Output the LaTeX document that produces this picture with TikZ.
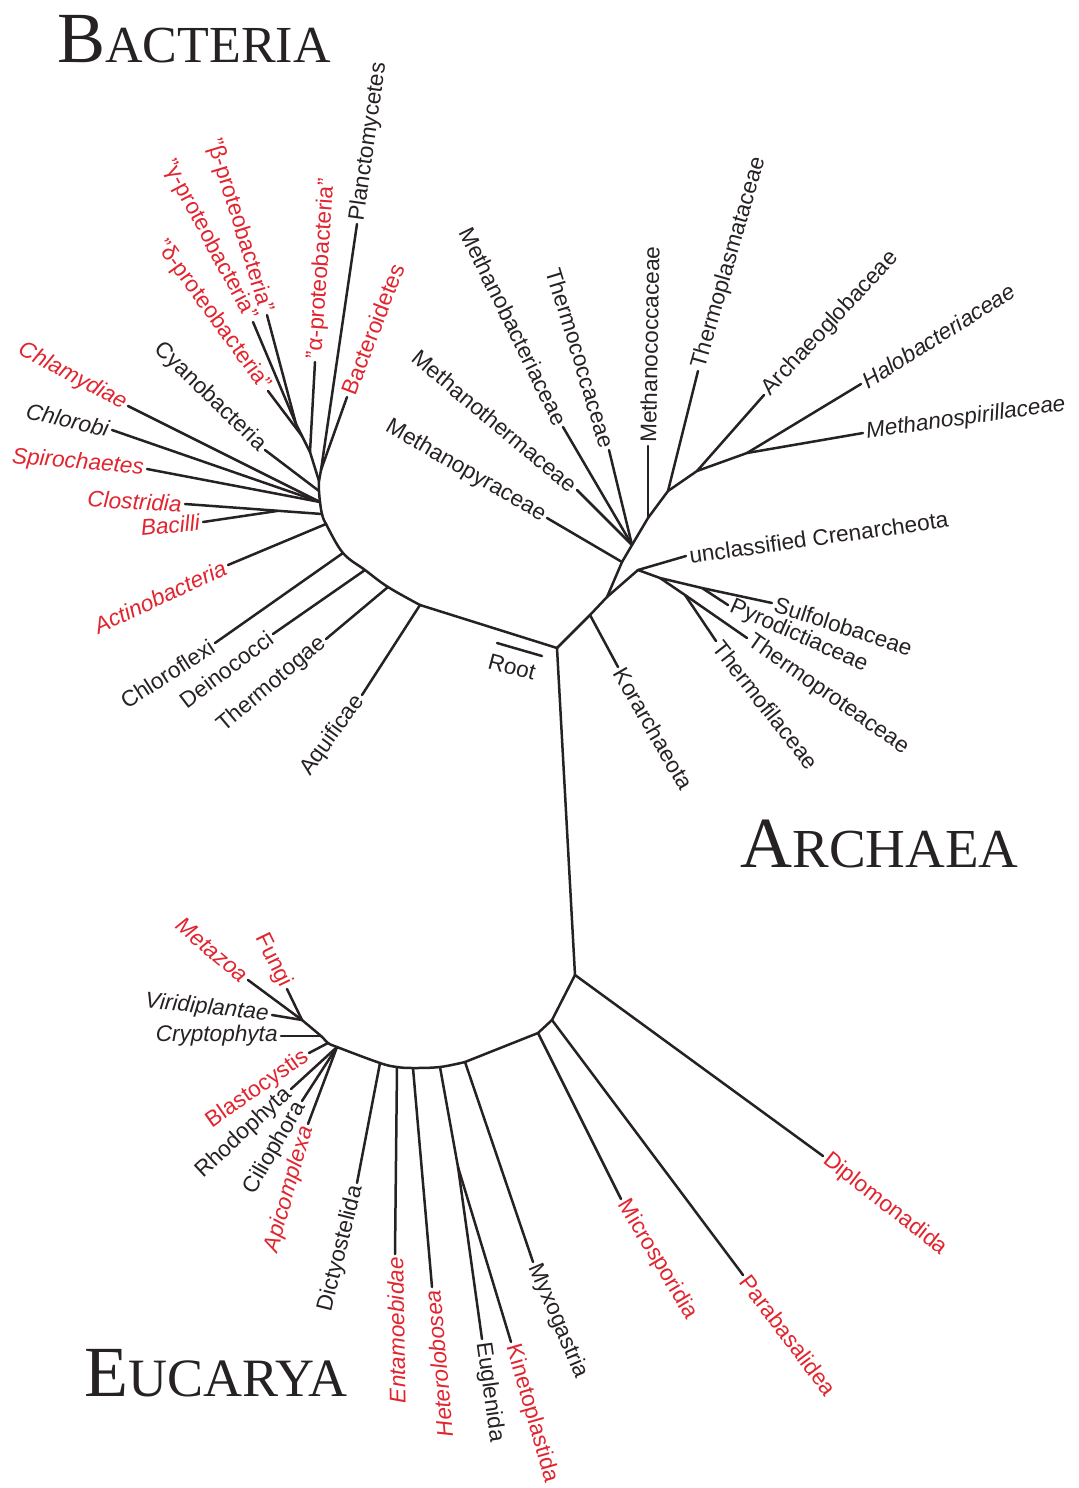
\documentclass[tikz,border=0pt]{standalone}
\usepackage{fontspec}
\setmainfont{Liberation Serif}
\setsansfont{Liberation Sans}
\definecolor{ink}{RGB}{38,33,34}
\definecolor{labred}{RGB}{225,36,46}

\begin{document}
\begin{tikzpicture}[x=0.5pt,y=-0.5pt]
\tikzset{ br/.style={draw=ink, line width=1.25pt, line cap=round, line join=round},
  lab/.style={font=\sffamily\fontsize{11.3}{13}\selectfont, text=ink, inner sep=1.5pt},
  ilab/.style={lab, font=\sffamily\itshape\fontsize{11.3}{13}\selectfont},
  rlab/.style={lab, text=labred},
  rilab/.style={ilab, text=labred},
  title/.style={font=\rmfamily, text=ink, anchor=base west, inner sep=0pt} }

\useasboundingbox (0,0) rectangle (1078,1488);

%\draw [lightgray, dashed] (0,0) grid[step=100] (1078,1488);

\node[title] (tB) at (57,62)   {{\fontsize{36}{36}\selectfont B}{\fontsize{26}{26}\selectfont ACTERIA}};
\node[title] (tA) at (740,867) {{\fontsize{36}{36}\selectfont A}{\fontsize{27.5}{27.5}\selectfont RCHAEA}};
\node[title] (tE) at (84,1396) {{\fontsize{36}{36}\selectfont E}{\fontsize{27}{27}\selectfont UCARYA}};

% root
\coordinate (R) at (557,648);
\coordinate (s1) at (497,643);
\coordinate (s2) at (542,656);
\draw [br] (s1) -- (s2);
\node [lab, rotate=-15] (Root) at (512,667) {Root};

% bacteria
\coordinate (bAq) at (420,605);
\coordinate (bTh) at (388,587);
\coordinate (bDe) at (365,570);
\coordinate (bCf) at (343,553);
\coordinate (bAc) at (326,524);
\coordinate (bCB) at (322,514);
\coordinate (bCS) at (320,502);
\coordinate (bCy) at (319,491);
\coordinate (bUp) at (319,481);
\coordinate (bBa) at (277,511);
\coordinate (PB) at (321,470);
\coordinate (P1) at (310,452);
\coordinate (P2) at (302,436);
\coordinate (P3) at (296,424);

\node [lab,  rotate=82,  anchor=west] (Pla) at (357,224) {Planctomycetes};
\node [rlab, rotate=86,  anchor=west] (Alp) at (315,362) {"α-proteobacteria"};
\node [rlab, rotate=69,  anchor=west] (Bac) at (347,397) {Bacteroidetes};
\node [rlab, rotate=-73, anchor=east] (Bet) at (267,315) {"β-proteobacteria"};
\node [rlab, rotate=-62, anchor=east] (Gam) at (253,322) {"γ-proteobacteria"};
\node [rlab, rotate=-54, anchor=east] (Del) at (268,391) {"δ-proteobacteria"};
\node [lab,  rotate=-44, anchor=east] (Cya) at (265,450) {Cyanobacteria};
\node [rilab, rotate=-28, anchor=east] (Chy) at (128,406) {Chlamydiae};
\node [ilab, rotate=-13, anchor=east] (Chb) at (112,430) {Chlorobi};
\node [rilab, rotate=-5,  anchor=east] (Spi) at (147,469) {Spirochaetes};
\node [rilab, rotate=-3,  anchor=east] (Clo) at (185,504) {Clostridia};
\node [rilab, rotate=5,   anchor=east] (Bcl) at (203,522) {Bacilli};
\node [rilab, rotate=25,  anchor=east] (Act) at (228,565) {Actinobacteria};
\node [lab,  rotate=33,  anchor=east] (Cfx) at (215,643) {Chloroflexi};
\node [lab,  rotate=37,  anchor=east] (Dei) at (273,634) {Deinococci};
\node [lab,  rotate=40,  anchor=east] (Tto) at (326,639) {Thermotogae};
\node [lab,  rotate=54,  anchor=east] (Aqu) at (362,695) {Aquificae};

\draw [br] (R) -- (bAq);
\draw [br] plot [smooth, tension=0.6] coordinates {(bAq) (bTh) (bDe) (bCf) (bAc) (bCB) (bCS) (bCy) (bUp)};
\draw [br] (bUp) -- (PB);
\draw [br] (PB) -- (Pla.west);
\draw [br] (PB) -- (Bac.west);
\draw [br] (bUp) -- (P1) -- (P2) -- (P3);
\draw [br] (P1) -- (Alp.west);
\draw [br] (P2) -- (Del.east);
\draw [br] (P3) -- (Gam.east);
\draw [br] (P3) -- (Bet.east);
\draw [br] (bCy) -- (Cya.east);
\draw [br] (bCS) -- (Chy.east);
\draw [br] (bCS) -- (Chb.east);
\draw [br] (bCS) -- (Spi.east);
\draw [br] (bCB) -- (Clo.east);
\draw [br] (bBa) -- (Bcl.east);
\draw [br] (bAc) -- (Act.east);
\draw [br] (bCf) -- (Cfx.east);
\draw [br] (bDe) -- (Dei.east);
\draw [br] (bTh) -- (Tto.east);
\draw [br] (bAq) -- (Aqu.east);

% archaea
\coordinate (aK) at (590,615);
\coordinate (aC) at (607,597);
\coordinate (aP) at (622,562);
\coordinate (aM) at (632,545);
\coordinate (aMc) at (648,518);
\coordinate (aTp) at (668,491);
\coordinate (aAg) at (697,471);
\coordinate (aH) at (747,453);
\coordinate (c0) at (638,570);
\coordinate (c1) at (660,578);
\coordinate (cPy) at (702,588);
\coordinate (cTf) at (685,595);

\node [lab,  rotate=-30, anchor=east] (Mpy) at (547,518) {Methanopyraceae};
\node [lab,  rotate=-40, anchor=east] (Mth) at (577,490) {Methanothermaceae};
\node [lab,  rotate=-64, anchor=east] (Mba) at (563,427) {Methanobacteriaceae};
\node [lab,  rotate=-73, anchor=east] (Tco) at (609,450) {Thermococcaceae};
\node [lab,  rotate=89,  anchor=west] (Mco) at (648,446) {Methanococcaceae};
\node [lab,  rotate=74,  anchor=west] (Tpl) at (698,371) {Thermoplasmataceae};
\node [lab,  rotate=47,  anchor=west] (Agl) at (764,395) {Archaeoglobaceae};
\node [ilab, rotate=32,  anchor=west] (Hal) at (861,384) {Halobacteriaceae};
\node [ilab, rotate=8,   anchor=west] (Msp) at (863,433) {Methanospirillaceae};
\node [lab,  rotate=8,   anchor=west] (Unc) at (686,556) {unclassified Crenarcheota};
\node [lab,  rotate=-18, anchor=west] (Sul) at (772,603) {Sulfolobaceae};
\node [lab,  rotate=-24, anchor=west] (Pyr) at (728,605) {Pyrodictiaceae};
\node [lab,  rotate=-35, anchor=west] (Tpr) at (747,638) {Thermoproteaceae};
\node [lab,  rotate=-52, anchor=west] (Tfl) at (716,641) {Thermofilaceae};
\node [lab,  rotate=-60, anchor=west] (Kor) at (618,667) {Korarchaeota};

\draw [br] (R) -- (aK) -- (aC) -- (aP) -- (aM) -- (aMc) -- (aTp) -- (aAg) -- (aH) -- (Msp.west);
\draw [br] (aP) -- (Mpy.east);
\draw [br] (aM) -- (Mth.east);
\draw [br] (aM) -- (Mba.east);
\draw [br] (aM) -- (Tco.east);
\draw [br] (aMc) -- (Mco.west);
\draw [br] (aTp) -- (Tpl.west);
\draw [br] (aAg) -- (Agl.west);
\draw [br] (aH) -- (Hal.west);
\draw [br] (aK) -- (Kor.west);
\draw [br] (aC) -- (c0);
\draw [br] (c0) -- (Unc.west);
\draw [br] (c0) -- (c1) -- (cPy) -- (Sul.west);
\draw [br] (cPy) -- (Pyr.west);
\draw [br] (c1) -- (cTf) -- (Tpr.west);
\draw [br] (cTf) -- (Tfl.west);

% eucarya
\coordinate (e0) at (575,975);
\coordinate (e1) at (552,1020);
\coordinate (e2) at (538,1033);
\coordinate (eMy) at (465,1062);
\coordinate (eEK) at (440,1067);
\coordinate (eHe) at (413,1068);
\coordinate (eEn) at (397,1067);
\coordinate (eDi) at (380,1063);
\coordinate (eRC) at (337,1047);
\coordinate (eBl) at (328,1043);
\coordinate (eCr) at (321,1036);
\coordinate (eMF) at (302,1020);
\coordinate (eKE) at (458,1167);

\node [rlab, rotate=-38, anchor=west] (Dip) at (823,1156) {Diplomonadida};
\node [rlab, rotate=-53, anchor=west] (Par) at (743,1275) {Parabasalidea};
\node [rlab, rotate=-59, anchor=west] (Mic) at (621,1199) {Microsporidia};
\node [lab,  rotate=-67, anchor=west] (Myx) at (533,1262) {Myxogastria};
\node [rlab, rotate=-74, anchor=west] (Kin) at (511,1342) {Kinetoplastida};
\node [lab,  rotate=-82, anchor=west] (Eug) at (482,1339) {Euglenida};
\node [rilab, rotate=95, anchor=east] (Het) at (432,1287) {Heterolobosea};
\node [rilab, rotate=91, anchor=east] (Ent) at (395,1254) {Entamoebidae};
\node [lab,  rotate=76,  anchor=east] (Dic) at (357,1183) {Dictyostelida};
\node [rilab, rotate=74, anchor=east] (Api) at (308,1124) {Apicomplexa};
\node [lab,  rotate=60,  anchor=east] (Cil) at (302,1101) {Ciliophora};
\node [lab,  rotate=43,  anchor=east] (Rho) at (291,1089) {Rhodophyta};
\node [rlab, rotate=35,  anchor=east] (Bla) at (309,1053) {Blastocystis};
\node [ilab, rotate=0,   anchor=east] (Cry) at (281,1036) {Cryptophyta};
\node [ilab, rotate=-6,  anchor=east] (Vir) at (272,1015) {Viridiplantae};
\node [rilab, rotate=-40, anchor=east] (Met) at (248,980) {Metazoa};
\node [rlab, rotate=-64, anchor=east] (Fun) at (287,989) {Fungi};

\draw [br] (R) -- (e0) -- (e1) -- (e2) -- (eMy);
\draw [br] plot [smooth, tension=0.6] coordinates {(eMy) (eEK) (eHe) (eEn) (eDi) (eRC) (eBl) (eCr) (eMF)};
\draw [br] (e0) -- (Dip.west);
\draw [br] (e1) -- (Par.west);
\draw [br] (e2) -- (Mic.west);
\draw [br] (eMy) -- (Myx.west);
\draw [br] (eEK) -- (eKE);
\draw [br] (eKE) -- (Eug.west);
\draw [br] (eKE) -- (Kin.west);
\draw [br] (eHe) -- (Het.east);
\draw [br] (eEn) -- (Ent.east);
\draw [br] (eDi) -- (Dic.east);
\draw [br] (eRC) -- (Api.east);
\draw [br] (eRC) -- (Cil.east);
\draw [br] (eRC) -- (Rho.east);
\draw [br] (eBl) -- (Bla.east);
\draw [br] (eCr) -- (Cry.east);
\draw [br] (eMF) -- (Vir.east);
\draw [br] (eMF) -- (Met.east);
\draw [br] (eMF) -- (Fun.east);

\end{tikzpicture}
\end{document}
